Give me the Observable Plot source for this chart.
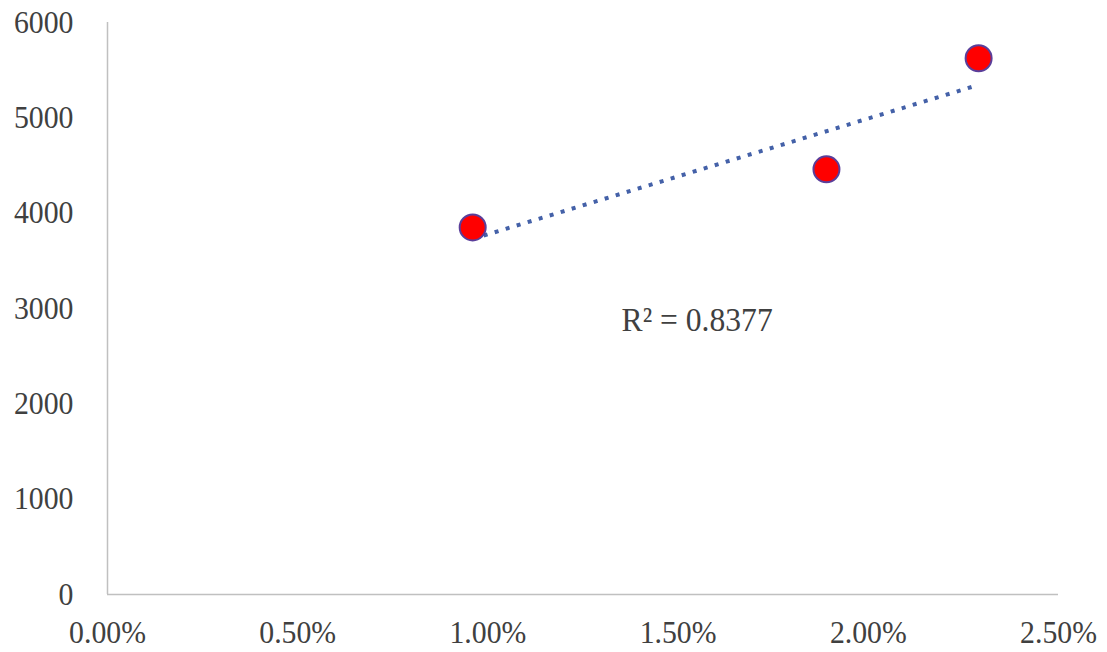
<!DOCTYPE html>
<html>
<head>
<meta charset="utf-8">
<script src="https://cdn.jsdelivr.net/npm/d3@7"></script>
<script src="https://cdn.jsdelivr.net/npm/@observablehq/plot@0.6"></script>
<style>
  html, body { margin: 0; padding: 0; background: #fff; }
  #chart svg { display: block; }
</style>
</head>
<body>
<div id="chart"></div>
<script>
const rates = [0.0096, 0.0189, 0.0229];
const values = [3850, 4460, 5625];
const xTicks = [0, 0.005, 0.01, 0.015, 0.02, 0.025];
const yTicks = [0, 1000, 2000, 3000, 4000, 5000, 6000];
const r2Label = "R² = 0.8377";
const r2Pos = {x: 0.0155, y: 2875};

const data = rates.map((r, i) => ({rate: r, value: values[i]}));

const chart = Plot.plot({
  width: 1107,
  height: 652,
  marginLeft: 107,
  marginRight: 49,
  marginTop: 22,
  marginBottom: 58,
  style: {fontFamily: "'Liberation Serif', serif", fontSize: "32px", color: "#404040", background: "#fff"},
  x: {domain: [0, 0.025], ticks: xTicks, tickFormat: d3.format(".2%"), label: null},
  y: {domain: [0, 6000], ticks: yTicks, tickFormat: d3.format("d"), label: null},
  marks: [
    Plot.axisX({ticks: xTicks, tickFormat: d3.format(".2%"), tickSize: 0, tickPadding: 26, label: null}),
    Plot.axisY({ticks: yTicks, tickFormat: d3.format("d"), tickSize: 0, tickPadding: 34, label: null}),
    Plot.ruleX([0], {stroke: "#c0c0c0", strokeWidth: 1.5}),
    Plot.ruleY([0], {stroke: "#c0c0c0", strokeWidth: 1.5}),
    Plot.linearRegressionY(data, {x: "rate", y: "value", ci: 0, stroke: "#4461a8", strokeWidth: 4, strokeDasharray: "4,7.5", strokeLinecap: "butt"}),
    Plot.dot(data, {x: "rate", y: "value", r: 13, fill: "#ff0000", stroke: "#5a3e9a", strokeWidth: 2}),
    Plot.text([r2Label], {x: () => r2Pos.x, y: () => r2Pos.y, text: d => d, fontSize: 34, fill: "#404040"})
  ]
});
// the reference's lettering is slightly condensed
chart.querySelectorAll("text").forEach(t => {
  const tr = t.getAttribute("transform") || "";
  t.setAttribute("transform", (tr + " scale(0.93,1)").trim());
});
document.getElementById("chart").appendChild(chart);
</script>
</body>
</html>
